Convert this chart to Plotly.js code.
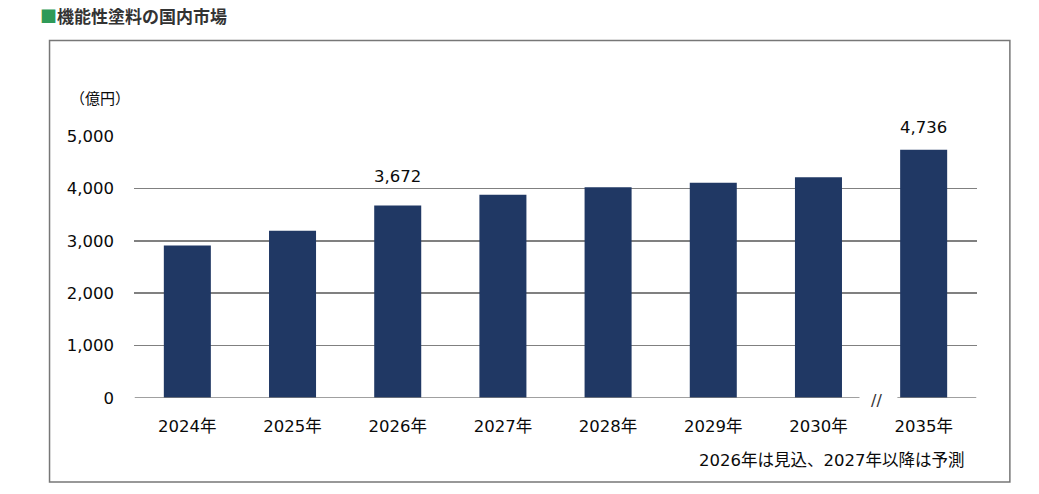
<!DOCTYPE html>
<html>
<head>
<meta charset="utf-8">
<script src="https://cdn.plot.ly/plotly-3.0.1.min.js"></script>
<style>html,body{margin:0;padding:0;background:#fff;}#chart{width:1039px;height:494px;}</style>
</head>
<body>
<div id="chart"></div>
<script>
// Data
var years = ['2024年', '2025年', '2026年', '2027年', '2028年', '2029年', '2030年', '2035年'];
var marketValues = [2910, 3190, 3672, 3880, 4020, 4110, 4215, 4736];
var labeledYears = ['2026年', '2035年'];
var yTickValues = [0, 1000, 2000, 3000, 4000, 5000];
var yTickLabels = ['0', '1,000', '2,000', '3,000', '4,000', '5,000'];
var chartTitle = '機能性塗料の国内市場';
var unitLabel = '（億円）';
var footnote = '2026年は見込、2027年以降は予測';

var FONT = '"DejaVu Sans", "Noto Sans CJK JP", sans-serif';
var TXT = '#0a0a0a';

var labelShift = {'2026年': 29, '2035年': 22};

var annotations = labeledYears.map(function (yr) {
  var i = years.indexOf(yr);
  return {
    x: yr, y: marketValues[i], xref: 'x', yref: 'y',
    text: marketValues[i].toLocaleString('en-US'),
    showarrow: false, yanchor: 'middle', yshift: labelShift[yr],
    font: {family: FONT, size: 16.5, color: TXT}
  };
});

annotations.push({
  xref: 'paper', yref: 'paper', x: -0.1144, y: 1.46, xanchor: 'left', yanchor: 'middle',
  text: '<span style="color:#2f9a58">■</span>' + '<b>' + chartTitle + '</b>',
  showarrow: false, font: {family: '"Noto Sans CJK JP", sans-serif', size: 17, color: '#333'}
});
annotations.push({
  xref: 'paper', yref: 'paper', x: -0.04, y: 1.14, xanchor: 'center', yanchor: 'middle',
  text: unitLabel, showarrow: false,
  font: {family: FONT, size: 15, color: TXT}
});
annotations.push({
  xref: 'paper', yref: 'paper', x: 0.9875, y: -0.24, xanchor: 'right', yanchor: 'middle',
  text: footnote, showarrow: false,
  font: {family: FONT, size: 16.5, color: TXT}
});
annotations.push({
  xref: 'x', yref: 'y', x: 6.55, y: 0, xanchor: 'center', yanchor: 'middle',
  text: '//', showarrow: false, yshift: -2,
  font: {family: FONT, size: 16, color: '#333'}
});

var data = [{
  type: 'bar',
  x: years,
  y: marketValues,
  marker: {color: '#203864', line: {width: 0}},
  hoverinfo: 'x+y'
}];

var layout = {
  width: 1039, height: 494,
  margin: {l: 134.4, r: 61.9, t: 135.7, b: 96.3, pad: 0},
  paper_bgcolor: '#fff', plot_bgcolor: '#fff',
  showlegend: false,
  bargap: 0.553,
  font: {family: FONT, size: 16.5, color: TXT},
  xaxis: {
    type: 'category', showgrid: false, zeroline: false, showline: false,
    ticks: '', tickfont: {family: FONT, size: 16.5, color: TXT},
    ticklabelstandoff: 16, fixedrange: true
  },
  yaxis: {
    range: [0, 5000], tickvals: yTickValues, ticktext: yTickLabels,
    showgrid: true, gridcolor: '#808080', gridwidth: 1.5,
    zeroline: false, showline: false, ticks: '',
    tickfont: {family: FONT, size: 16.5, color: TXT},
    ticklabelstandoff: 19, fixedrange: true
  },
  shapes: [
    {type: 'rect', xref: 'paper', yref: 'paper', x0: -0.1002, x1: 1.039, y0: -0.3202, y1: 1.3649,
     line: {color: '#777', width: 1.5}, fillcolor: 'rgba(0,0,0,0)', layer: 'below'},
    {type: 'line', xref: 'x', yref: 'y', x0: -0.5, x1: 6.39, y0: 0, y1: 0,
     line: {color: '#808080', width: 1.5}, layer: 'above'},
    {type: 'line', xref: 'x', yref: 'y', x0: 6.75, x1: 7.5, y0: 0, y1: 0,
     line: {color: '#808080', width: 1.5}, layer: 'above'}
  ],
  annotations: annotations
};

Plotly.newPlot('chart', data, layout, {displayModeBar: false, staticPlot: true});
</script>
</body>
</html>
